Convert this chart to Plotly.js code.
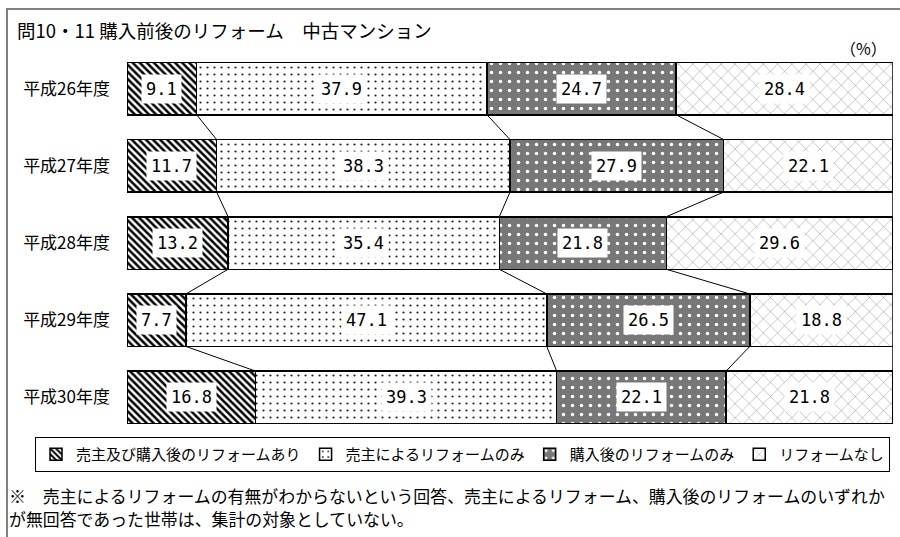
<!DOCTYPE html>
<html>
<head>
<meta charset="utf-8">
<script src="https://cdn.plot.ly/plotly-3.0.1.min.js"></script>
<style>
  body { margin: 0; background: #fff; }
  #chart { width: 900px; height: 537px; }
</style>
</head>
<body>
<div id="chart"></div>
<script>
// 問10・11 購入前後のリフォーム（中古マンション）
const years = ['平成26年度', '平成27年度', '平成28年度', '平成29年度', '平成30年度'];
const seriesNames = ['売主及び購入後のリフォームあり', '売主によるリフォームのみ', '購入後のリフォームのみ', 'リフォームなし'];
const bothReform = [9.1, 11.7, 13.2, 7.7, 16.8];
const sellerOnly = [37.9, 38.3, 35.4, 47.1, 39.3];
const buyerOnly = [24.7, 27.9, 21.8, 26.5, 22.1];
const noReform = [28.4, 22.1, 29.6, 18.8, 21.8];

const series = [bothReform, sellerOnly, buyerOnly, noReform];

// 模様（白黒印刷風）
const patterns = [
    { shape: '\\', fgcolor: '#000', bgcolor: '#fff', size: 5, solidity: 0.5 },
    { shape: '.', fgcolor: '#222', bgcolor: '#fff', size: 7, solidity: 0.08 },
    { shape: '.', fgcolor: '#fff', bgcolor: '#777', size: 9, solidity: 0.12 },
    { shape: 'x', fgcolor: '#444', bgcolor: '#fff', size: 10, solidity: 0.06 }
];

const jp = '"Noto Sans CJK JP", "Noto Sans", sans-serif';

// 余白（ピクセル）
const M = { l: 127, r: 7, t: 50, b: 101 };
const W = 900, H = 537;
const pw = W - M.l - M.r, ph = H - M.t - M.b;
const px = x => (x - M.l) / pw;
const py = y => (H - M.b - y) / ph;

const data = series.map((vals, k) => ({
    type: 'bar',
    orientation: 'h',
    name: seriesNames[k],
    x: vals,
    y: years,
    marker: {
        color: patterns[k].bgcolor,
        pattern: patterns[k],
        line: { color: '#000', width: 1.5 }
    },
    hoverinfo: 'skip'
}));

// 累積値
const cum = series.map((_, k) => years.map((_, i) => {
    let s = 0;
    for (let j = 0; j <= k; j++) s += series[j][i];
    return s;
}));

const half = 0.34;
const shapes = [];

// 区切り線
for (let k = 0; k < 3; k++) {
    for (let i = 0; i < years.length - 1; i++) {
        shapes.push({
            type: 'line', xref: 'x', yref: 'y',
            x0: cum[k][i], y0: i + half,
            x1: cum[k][i + 1], y1: i + 1 - half,
            line: { color: '#000', width: 1 }
        });
    }
}

// 右端の線
shapes.push({
    type: 'line', xref: 'x', yref: 'y',
    x0: 100, x1: 100, y0: -half, y1: years.length - 1 + half,
    line: { color: '#000', width: 1.5 }
});

// 外枠
shapes.push({
    type: 'rect', xref: 'paper', yref: 'paper',
    x0: px(7), y0: py(560), x1: px(920), y1: py(9),
    line: { color: '#808080', width: 2 }
});

// 数値ラベル
const annotations = [];
series.forEach((vals, k) => {
    vals.forEach((v, i) => {
        annotations.push({
            x: cum[k][i] - v / 2,
            y: years[i],
            xref: 'x', yref: 'y',
            text: v.toFixed(1),
            showarrow: false,
            bgcolor: '#fff',
            borderpad: 4,
            font: { family: '"DejaVu Sans Mono", monospace', size: 17, color: '#000' }
        });
    });
});

annotations.push({
    xref: 'paper', yref: 'paper', x: px(889), y: py(48),
    xanchor: 'right', yanchor: 'middle', showarrow: false,
    text: '（%）', font: { family: jp, size: 16, color: '#000' }
});

annotations.push({
    xref: 'paper', yref: 'paper', x: px(7), y: py(495),
    xanchor: 'left', yanchor: 'middle', showarrow: false, align: 'left',
    text: '※　売主によるリフォームの有無がわからないという回答、売主によるリフォーム、購入後のリフォームのいずれか',
    font: { family: jp, size: 16.9, color: '#000' }
});
annotations.push({
    xref: 'paper', yref: 'paper', x: px(7), y: py(518),
    xanchor: 'left', yanchor: 'middle', showarrow: false, align: 'left',
    text: 'が無回答であった世帯は、集計の対象としていない。',
    font: { family: jp, size: 16.9, color: '#000' }
});

const layout = {
    width: W,
    height: H,
    margin: M,
    barmode: 'stack',
    bargap: 0.32,
    showlegend: true,
    title: {
        text: '問10・11 購入前後のリフォーム　中古マンション',
        xref: 'container', yref: 'container',
        x: 17 / W, xanchor: 'left',
        y: 1 - 32 / H, yanchor: 'middle',
        font: { family: jp, size: 18.5, color: '#000' }
    },
    xaxis: {
        range: [0, 100],
        visible: false,
        fixedrange: true
    },
    yaxis: {
        type: 'category',
        autorange: 'reversed',
        showline: false,
        showgrid: false,
        ticks: '',
        ticklabelstandoff: 16,
        tickfont: { family: jp, size: 17, color: '#000' },
        fixedrange: true
    },
    legend: {
        orientation: 'h',
        x: px(35), xanchor: 'left',
        y: py(437), yanchor: 'top',
        bordercolor: '#000',
        borderwidth: 1,
        font: { family: jp, size: 15, color: '#000' },
        traceorder: 'normal'
    },
    shapes: shapes,
    annotations: annotations,
    plot_bgcolor: '#fff',
    paper_bgcolor: '#fff'
};

Plotly.newPlot('chart', data, layout, { displayModeBar: false, staticPlot: true });
</script>
</body>
</html>
